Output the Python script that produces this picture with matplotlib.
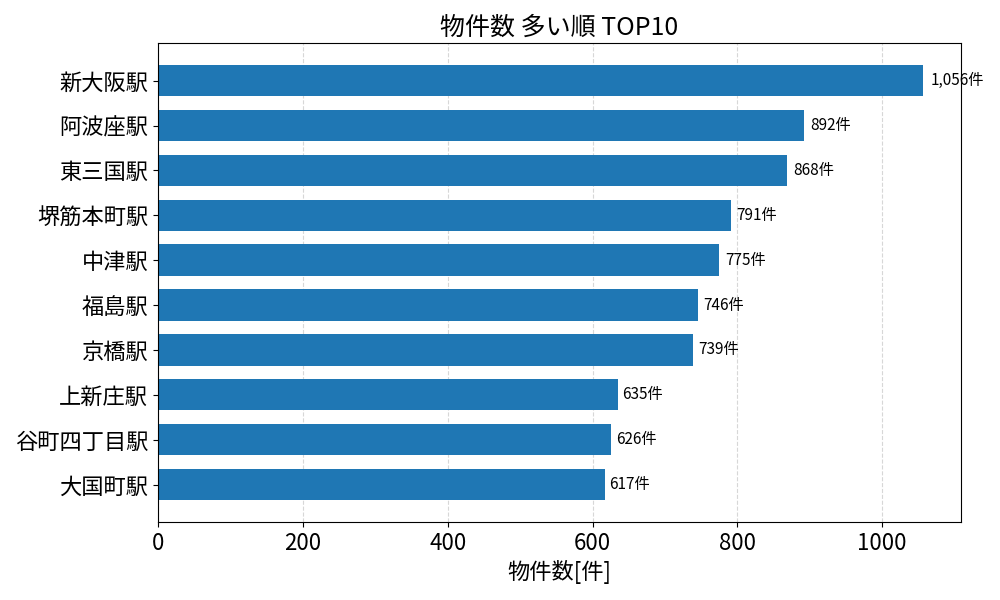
import matplotlib
matplotlib.use("Agg")
import matplotlib.pyplot as plt

plt.rcParams['font.family'] = ['Noto Sans CJK JP', 'DejaVu Sans']

stations = ['新大阪駅', '阿波座駅', '東三国駅', '堺筋本町駅', '中津駅',
            '福島駅', '京橋駅', '上新庄駅', '谷町四丁目駅', '大国町駅']
counts = [1056, 892, 868, 791, 775, 746, 739, 635, 626, 617]

fig, ax = plt.subplots(figsize=(10, 6), dpi=100)
fig.subplots_adjust(left=0.158, right=0.961, top=0.928, bottom=0.13)

# reverse so the largest is on top
ypos = list(range(len(stations)))[::-1]
bars = ax.barh(ypos, counts, height=0.7, color='#1f77b4', zorder=2)
ax.set_yticks(ypos)
ax.set_yticklabels(stations, fontsize=16)

for y, v in zip(ypos, counts):
    ax.text(v * 1.01, y, f'{v:,}件', va='center', ha='left', fontsize=11)

ax.grid(axis='x', linestyle='--', alpha=0.5, zorder=0)
ax.set_axisbelow(True)
ax.tick_params(axis='x', labelsize=16)
ax.set_xlabel('物件数[件]', fontsize=16)
ax.set_title('物件数 多い順 TOP10', fontsize=18)

fig.savefig('out.png', dpi=100)
